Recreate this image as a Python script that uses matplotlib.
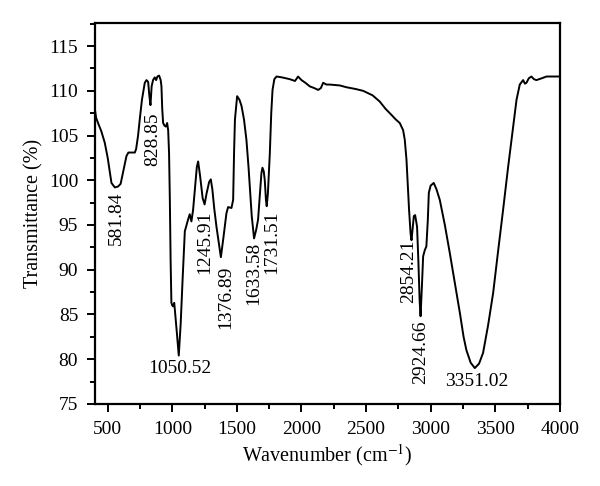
import matplotlib
matplotlib.use("Agg")
import matplotlib.pyplot as plt
from matplotlib.ticker import MultipleLocator

# spectre FTIR relevé à la main sur la figure
nombre_onde = [400, 410, 425, 450, 477, 500, 529, 555, 580, 600, 620, 645, 660, 710, 720, 735,
               748, 765, 787, 800, 813, 822, 831, 840, 851, 864, 875, 885, 898, 910, 916, 922,
               929, 940, 950, 960, 968, 975, 981, 987, 993, 1000, 1006, 1015, 1020, 1035, 1050,
               1065, 1080, 1097, 1110, 1122, 1135, 1148, 1161, 1175, 1190, 1200, 1215, 1235,
               1250, 1265, 1285, 1298, 1310, 1325, 1342, 1360, 1376, 1395, 1419, 1432, 1458,
               1471, 1478, 1485, 1502, 1520, 1536, 1555, 1574, 1590, 1600, 1615, 1633, 1650,
               1664, 1677, 1690, 1698, 1708, 1716, 1725, 1731, 1740, 1755, 1766, 1776, 1790,
               1807, 1850, 1910, 1950, 1974, 2000, 2030, 2064, 2100, 2129, 2150, 2168, 2193,
               2219, 2297, 2348, 2420, 2477, 2550, 2606, 2650, 2684, 2730, 2761, 2787, 2800,
               2813, 2825, 2833, 2845, 2852, 2860, 2870, 2880, 2895, 2905, 2915, 2922, 2932,
               2942, 2955, 2967, 2978, 2986, 3000, 3024, 3045, 3071, 3110, 3148, 3190, 3226,
               3255, 3277, 3310, 3342, 3375, 3406, 3445, 3484, 3520, 3561, 3600, 3638, 3665,
               3690, 3716, 3730, 3742, 3760, 3780, 3800, 3819, 3860, 3897, 3950, 4000]
transmittance = [108.0, 107.0, 106.4, 105.5, 104.2, 102.5, 99.7, 99.2, 99.3, 99.6, 101.0, 102.7,
                 103.1, 103.1, 103.5, 105.0, 106.8, 109.0, 110.9, 111.2, 111.0, 109.5, 108.4,
                 110.5, 111.2, 111.5, 111.2, 111.6, 111.7, 111.2, 110.5, 108.0, 106.4, 106.1,
                 106.0, 106.4, 105.6, 103.0, 97.8, 91.0, 86.3, 86.0, 85.9, 86.3, 85.5, 83.0,
                 80.4, 84.0, 89.0, 94.3, 95.0, 95.6, 96.2, 95.4, 96.7, 99.0, 101.5, 102.1,
                 100.5, 98.0, 97.3, 98.5, 99.8, 100.1, 99.0, 96.8, 94.8, 93.0, 91.4, 93.5, 96.3,
                 97.0, 96.9, 97.8, 103.0, 106.8, 109.4, 109.0, 108.3, 106.8, 104.5, 101.5, 99.3,
                 96.0, 93.5, 94.5, 95.6, 98.2, 100.8, 101.4, 101.0, 100.0, 97.8, 97.1, 98.5,
                 103.0, 107.5, 110.1, 111.3, 111.6, 111.5, 111.3, 111.1, 111.6, 111.2, 110.9,
                 110.5, 110.3, 110.1, 110.3, 110.9, 110.7, 110.7, 110.6, 110.4, 110.2, 110.0,
                 109.5, 108.8, 108.0, 107.5, 106.8, 106.4, 105.6, 104.5, 102.3, 99.0, 96.7,
                 94.0, 93.3, 94.5, 96.0, 96.1, 94.8, 91.0, 86.5, 84.8, 88.0, 91.5, 92.2, 92.6,
                 95.5, 98.6, 99.4, 99.7, 99.0, 97.8, 95.0, 91.9, 88.3, 85.2, 82.5, 81.0, 79.6,
                 79.0, 79.5, 80.7, 83.8, 87.4, 91.8, 96.7, 101.5, 105.9, 109.0, 110.7, 111.2,
                 110.8, 110.9, 111.4, 111.6, 111.3, 111.2, 111.4, 111.6, 111.6, 111.6]

# étiquettes des pics
pics_verticaux = ["581.84", "828.85", "1245.91", "1376.89", "1633.58", "1731.51", "2854.21", "2924.66"]
pics_horizontaux = ["1050.52", "3351.02"]

# emplacement des étiquettes (x, haut du texte)
pos_verticaux = [(570, 98.7), (850, 107.6), (1252, 96.6), (1414, 90.4),
                 (1631, 93.1), (1770, 96.6), (2831, 93.4), (2924, 84.3)]
pos_horizontaux = [(1058, 79.0), (3355, 77.5)]

plt.rcParams['font.family'] = ['Liberation Serif', 'DejaVu Serif']
plt.rcParams['mathtext.fontset'] = 'stix'

fig = plt.figure(figsize=(6, 4.86), dpi=100)
ax = fig.add_axes([0.158, 0.169, 0.775, 0.784])

ax.plot(nombre_onde, transmittance, color='black', linewidth=1.4)

for txt, (x, y) in zip(pics_verticaux, pos_verticaux):
    ax.text(x, y, txt, rotation=90, ha='center', va='top', fontsize=14)
for txt, (x, y) in zip(pics_horizontaux, pos_horizontaux):
    ax.text(x, y, txt, ha='center', va='center', fontsize=14)

ax.set_xlim(400, 4000)
ax.set_ylim(75, 117.6)
ax.xaxis.set_major_locator(MultipleLocator(500))
ax.xaxis.set_minor_locator(MultipleLocator(250))
ax.yaxis.set_major_locator(MultipleLocator(5))
ax.yaxis.set_minor_locator(MultipleLocator(2.5))
ax.tick_params(which='both', direction='out', width=1.4, labelsize=14, pad=6)
ax.tick_params(which='major', length=6)
ax.tick_params(which='minor', length=3.5)
for s in ax.spines.values():
    s.set_linewidth(1.6)

ax.set_xlabel(r'Wavenumber (cm$^{-1}$)', fontsize=14.5, labelpad=3)
ax.set_ylabel('Transmittance (%)', fontsize=14.5, labelpad=4)

fig.savefig('out.png', dpi=100)
